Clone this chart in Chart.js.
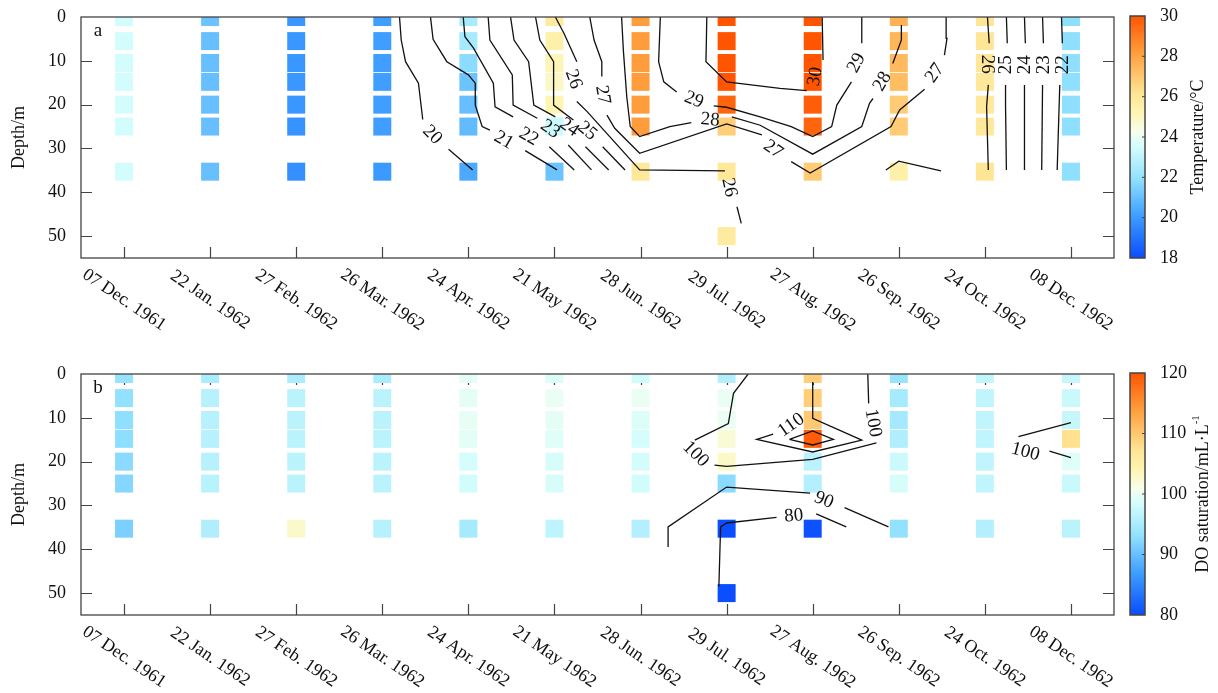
<!DOCTYPE html>
<html lang="en">
<head>
<meta charset="UTF-8">
<title>Temperature and DO saturation profiles, 1961-1962</title>
<script src="https://cdn.jsdelivr.net/npm/chart.js"></script>
<style>
  body { margin: 0; background: #fff; }
  .panel { position: absolute; left: 0; width: 1218px; }
  #pa { top: 0; height: 357px; }
  #pb { top: 357px; height: 336px; }
</style>
</head>
<body>
<div class="panel" id="pa"><canvas id="tempChart"></canvas></div>
<div class="panel" id="pb"><canvas id="doChart"></canvas></div>
<script>
const dates = ['07 Dec. 1961', '22 Jan. 1962', '27 Feb. 1962', '26 Mar. 1962', '24 Apr. 1962', '21 May 1962',
               '28 Jun. 1962', '29 Jul. 1962', '27 Aug. 1962', '26 Sep. 1962', '24 Oct. 1962', '08 Dec. 1962'];
// sample depths (m) as they sit on the picture
const depths = [0, 5.5, 10.5, 14.8, 20, 25, 35.3, 50];
const depthTicks = [0, 10, 20, 30, 40, 50];
const tempBarTicks = [18, 20, 22, 24, 26, 28, 30];
const doBarTicks = [80, 90, 100, 110, 120];

// temperature (°C), one row per date, one value per depth (null = no sample)
const tempGrid = [
  [23.5, 23.5, 23.5, 23.5, 23.5, 23.5, 23.5, null],
  [21.1, 21.0, 21.0, 21.0, 21.0, 21.0, 21.0, null],
  [19.9, 19.9, 19.9, 19.9, 19.9, 19.8, 19.7, null],
  [20.1, 20.1, 20.1, 20.1, 20.1, 20.1, 20.0, null],
  [22.5, 22.4, 21.8, 21.1, 21.0, 20.9, 20.4, null],
  [25.8, 25.5, 25.1, 24.9, 25.2, 23.3, 21.1, null],
  [28.2, 28.2, 28.2, 28.2, 28.2, 28.2, 26.0, null],
  [30.0, 30.0, 30.0, 30.0, 29.6, 26.8, 26.0, 25.8],
  [30.0, 30.0, 30.0, 30.0, 29.8, 29.6, 26.9, null],
  [27.6, 27.5, 27.4, 27.3, 26.9, 26.9, 25.5, null],
  [26.1, 26.1, 26.0, 26.0, 26.0, 26.0, 26.1, null],
  [21.9, 21.9, 21.9, 21.9, 21.9, 21.9, 21.9, null]
];

// DO saturation, same layout
const doGrid = [
  [93.4, 93.2, 93.0, 92.9, 92.6, 92.2, 91.6, null],
  [95.2, 96.0, 96.0, 96.0, 96.0, 96.2, 95.6, null],
  [95.2, 96.4, 96.4, 96.4, 96.4, 96.4, 102.6, null],
  [95.2, 96.4, 96.4, 96.4, 96.4, 96.4, 96.0, null],
  [99.6, 99.6, 99.7, 99.4, 98.4, 98.2, 94.8, null],
  [99.0, 100.0, 99.6, 99.2, 98.6, 98.6, 96.6, null],
  [98.2, 100.0, 99.0, 98.5, 98.3, 98.2, 95.8, null],
  [95.8, 100.0, 100.0, 102.0, 102.8, 92.6, 80.2, 80.2],
  [109.4, 109.4, 109.8, 119.2, 96.4, 95.8, 80.4, null],
  [93.6, 94.8, 94.6, 95.6, 97.8, 98.6, 93.2, null],
  [97.0, 96.8, 96.8, 96.8, 96.8, 96.8, 95.8, null],
  [97.2, 97.6, 97.2, 107.6, 99.2, 97.6, 96.4, null]
];

// isoline pieces: [level, [[date index, depth], ...]]
const tempContours = [
  [20, [[3.20, 0], [3.22, 5.25], [3.27, 10.2], [3.42, 15.1], [3.47, 23.4]]],
  [20, [[3.77, 30.2], [4.05, 34.9]]],
  [21, [[3.56, 0], [3.59, 5.1], [3.75, 10.2], [4.00, 13.2], [4.08, 15.1], [4.08, 20.1], [4.16, 25.0], [4.25, 25.8]]],
  [21, [[4.66, 30.5], [5.03, 34.9]]],
  [22, [[3.94, 0], [3.96, 4.5], [4.06, 7.1], [4.29, 15.1], [4.31, 20.5], [4.52, 22.8]]],
  [22, [[4.94, 29.6], [5.23, 34.9]]],
  [23, [[4.23, 0], [4.25, 5.25], [4.51, 13.2], [4.52, 20.1], [4.80, 23.1]]],
  [23, [[5.16, 29.2], [5.43, 34.9]]],
  [24, [[4.49, 0], [4.53, 5.25], [4.70, 10.2], [4.76, 20.1], [5.01, 22.8]]],
  [24, [[5.36, 29.6], [5.63, 34.9]]],
  [25, [[4.78, 0], [4.83, 5.25], [4.99, 10.2], [4.99, 20.1], [5.22, 23.5]]],
  [25, [[5.56, 29.6], [5.82, 34.9]]],
  [26, [[5.01, 0], [5.11, 3.72], [5.26, 10.2]]],
  [26, [[5.26, 19.3], [5.38, 21.6], [5.99, 34.9], [6.98, 35.1]]],
  [26, [[7.12, 43.3], [7.17, 47.1]]],
  [26, [[8.85, 34.9], [9.00, 32.9], [9.49, 35.1]]],
  [27, [[5.41, 0], [5.46, 5.25], [5.55, 10.2], [5.55, 13.6]]],
  [27, [[5.61, 22.4], [5.70, 25.4], [5.99, 31.1], [7.00, 24.4], [7.41, 26.9]]],
  [27, [[7.75, 33.0], [7.97, 35.6], [8.91, 25.0], [9.01, 21.2], [9.30, 16.5]]],
  [27, [[9.53, 8.7], [9.56, 4.9], [9.55, 0]]],
  [28, [[5.78, 0], [5.80, 7.5], [5.84, 18.2], [5.88, 25.0], [5.99, 27.3], [6.34, 25.0], [6.59, 24.1]]],
  [28, [[7.06, 22.8], [7.39, 24.7], [8.00, 31.3], [8.57, 25.0], [8.66, 19.7], [8.70, 18.6]]],
  [28, [[8.93, 10.6], [9.03, 5.25], [9.03, 1.8]]],
  [29, [[6.23, 0], [6.21, 10.2], [6.27, 14.8], [6.42, 17.1]]],
  [29, [[6.85, 20.3], [7.00, 20.6], [7.39, 22.8], [7.75, 25.0], [8.00, 27.3], [8.22, 25.0], [8.28, 20.1], [8.45, 14.8]]],
  [29, [[8.57, 6.0], [8.57, 0]]],
  [30, [[6.77, 0], [6.76, 10.2], [7.00, 14.8], [7.62, 16.3], [7.93, 16.8]]],
  [30, [[8.12, 9.8], [8.11, 0]]],
  [26, [[10.03, 0], [10.05, 6.0]]],
  [26, [[10.04, 15.5], [10.02, 20.5], [10.04, 34.9]]],
  [25, [[10.25, 0], [10.26, 6.0]]],
  [25, [[10.24, 15.5], [10.24, 20.1], [10.25, 34.9]]],
  [24, [[10.46, 0], [10.47, 6.0]]],
  [24, [[10.46, 15.5], [10.46, 34.9]]],
  [23, [[10.67, 0], [10.68, 6.0]]],
  [23, [[10.67, 15.5], [10.66, 34.9]]],
  [22, [[10.89, 0], [10.90, 6.0]]],
  [22, [[10.87, 15.5], [10.84, 34.9]]]
];
// isoline labels: [date index, depth, text, angle]
const tempLabels = [
  [3.58, 26.9, '20', 45], [4.41, 28.1, '21', 30], [4.70, 27.3, '22', 30], [4.95, 25.6, '23', 35],
  [5.17, 25.2, '24', 35], [5.38, 26.0, '25', 40], [5.22, 14.2, '26', 70], [5.56, 17.8, '27', 80],
  [6.62, 18.9, '29', 22], [6.81, 23.5, '28', 5], [7.54, 30.2, '27', 35], [7.03, 38.9, '26', 78],
  [8.03, 13.6, '30', -80], [8.51, 10.5, '29', -62], [8.81, 14.7, '28', -60], [9.42, 12.8, '27', -55],
  [10.03, 10.8, '26', 90], [10.25, 10.9, '25', -90], [10.47, 10.9, '24', -90], [10.69, 10.9, '23', -90],
  [10.91, 10.9, '22', -90]
];

const doContours = [
  [100, [[7.25, 0], [7.08, 4.4], [7.02, 11.3], [6.63, 15.1]]],
  [100, [[6.86, 20.8], [7.00, 21.1], [8.00, 19.5], [8.74, 15.7]]],
  [100, [[8.65, 6.7], [8.64, 0]]],
  [110, [[7.54, 13.7], [7.35, 14.9], [8.00, 17.8], [8.57, 15.1], [8.00, 10.1], [8.00, 1.8]]],
  [115, [[7.73, 14.9], [8.00, 13.0], [8.24, 14.9], [8.00, 16.2], [7.73, 14.9]]],
  [90, [[6.32, 39.5], [6.32, 34.9], [7.00, 25.8], [7.97, 27.2]]],
  [90, [[8.37, 30.5], [8.88, 34.9]]],
  [80, [[6.91, 48.5], [6.93, 34.9], [7.00, 34.0], [7.58, 32.7]]],
  [80, [[8.04, 31.9], [8.39, 34.9]]],
  [100, [[11.00, 11.1], [10.39, 14.3]]],
  [100, [[10.75, 17.6], [11.00, 19.1]]]
];
const doLabels = [
  [6.64, 18.3, '100', 45], [8.70, 11.2, '100', 80], [7.75, 11.7, '110', -35],
  [8.13, 28.8, '90', 22], [7.78, 32.4, '80', -5], [10.47, 17.8, '100', 15]
];

const serif = "'Liberation Serif', 'Times New Roman', serif";
const ink = '#111';

// shared colour scale (0 = blue end, 1 = red end)
const cmapStops = [[0, '#0a4cff'], [0.17, '#3c9cff'], [0.33, '#92e2ff'], [0.46, '#d4fdfc'], [0.52, '#f6ffee'],
                   [0.6, '#fff5b2'], [0.68, '#ffe594'], [0.84, '#ffa140'], [1, '#ff5500']];

function hexRgb(h) {
  return [parseInt(h.slice(1, 3), 16), parseInt(h.slice(3, 5), 16), parseInt(h.slice(5, 7), 16)];
}
function colormap(t) {
  t = Math.max(0, Math.min(1, t));
  for (let i = 1; i < cmapStops.length; i++) {
    if (t <= cmapStops[i][0]) {
      const [t0, c0] = cmapStops[i - 1], [t1, c1] = cmapStops[i];
      const f = (t - t0) / (t1 - t0), a = hexRgb(c0), b = hexRgb(c1);
      return 'rgb(' + a.map((v, k) => Math.round(v + f * (b[k] - v))).join(',') + ')';
    }
  }
  return cmapStops[cmapStops.length - 1][1];
}

function cellDataset(grid, min, max) {
  const pts = [], colors = [];
  grid.forEach((col, i) => col.forEach((v, k) => {
    if (v === null) return;
    pts.push({ x: i, y: depths[k] });
    colors.push(colormap((v - min) / (max - min)));
  }));
  return {
    label: 'samples', data: pts, showLine: false, pointStyle: 'rect',
    pointRadius: 9 * Math.SQRT2, pointBorderWidth: 0, pointBackgroundColor: colors,
    clip: 0, order: 5
  };
}

function contourDatasets(list) {
  return list.map(([level, pts]) => ({
    label: 'isoline ' + level, data: pts.map(([x, d]) => ({ x: x, y: d })),
    showLine: true, borderColor: '#111', borderWidth: 1.3, pointRadius: 0, tension: 0, order: 0
  }));
}

function panelPlugin(cfg) {
  return {
    id: 'panelDecor',
    beforeDatasetsDraw(chart) {
      // inward tick marks, under the sample squares
      const { ctx, chartArea: a, scales: { x, y } } = chart;
      ctx.save();
      ctx.strokeStyle = '#444';
      ctx.lineWidth = 1.2;
      ctx.beginPath();
      x.ticks.forEach(t => {
        const px = Math.round(x.getPixelForValue(t.value)) + 0.5;
        ctx.moveTo(px, a.bottom); ctx.lineTo(px, a.bottom - 11);
        if (cfg.topTicks) { ctx.moveTo(px, a.top); ctx.lineTo(px, a.top + 11); }
      });
      y.ticks.forEach(t => {
        if (t.value <= 0) return;
        const py = Math.round(y.getPixelForValue(t.value)) + 0.5;
        ctx.moveTo(a.left, py); ctx.lineTo(a.left + 11, py);
        ctx.moveTo(a.right, py); ctx.lineTo(a.right - 11, py);
      });
      ctx.stroke();
      ctx.restore();
    },
    afterDatasetsDraw(chart) {
      const { ctx, chartArea: a, scales: { x, y } } = chart;
      ctx.save();
      ctx.fillStyle = '#111';
      ctx.textAlign = 'center';
      ctx.textBaseline = 'middle';

      // isoline labels
      ctx.font = '19px ' + serif;
      cfg.labels.forEach(([xv, dv, txt, ang]) => {
        ctx.save();
        ctx.translate(x.getPixelForValue(xv), y.getPixelForValue(dv));
        ctx.rotate(ang * Math.PI / 180);
        ctx.fillText(txt, 0, 0);
        ctx.restore();
      });

      // frame
      ctx.strokeStyle = '#444';
      ctx.lineWidth = 1.3;
      ctx.strokeRect(a.left, a.top, a.right - a.left, a.bottom - a.top);

      // panel letter
      ctx.fillStyle = ink;
      ctx.font = '19px ' + serif;
      ctx.fillText(cfg.letter, a.left + 17, a.top + 14);

      // slanted date labels
      ctx.font = '18px ' + serif;
      x.ticks.forEach(t => {
        ctx.save();
        ctx.translate(x.getPixelForValue(t.value), a.bottom + 42);
        ctx.rotate(34 * Math.PI / 180);
        ctx.fillText(dates[t.value], 0, 0);
        ctx.restore();
      });

      // colour bar
      const bx = a.right + 16, bw = 15, top = a.top - 1, bot = a.bottom;
      const g = ctx.createLinearGradient(0, bot, 0, top);
      cmapStops.forEach(([t, c]) => g.addColorStop(t, c));
      ctx.fillStyle = g;
      ctx.fillRect(bx, top, bw, bot - top);
      ctx.strokeStyle = '#444';
      ctx.lineWidth = 1.5;
      ctx.strokeRect(bx, top, bw, bot - top);
      ctx.fillStyle = ink;
      ctx.font = '18px ' + serif;
      ctx.textAlign = 'left';
      ctx.lineWidth = 1;
      cfg.barTicks.forEach(v => {
        const py = bot - (v - cfg.min) / (cfg.max - cfg.min) * (bot - top);
        if (v > cfg.min && v < cfg.max) {
          ctx.beginPath();
          ctx.moveTo(bx + bw, py); ctx.lineTo(bx + bw - 3, py);
          ctx.stroke();
        }
        ctx.fillText(String(v), bx + bw + 15, py);
      });

      // colour bar title
      ctx.save();
      ctx.translate(cfg.titleX, (top + bot) / 2);
      ctx.rotate(-Math.PI / 2);
      ctx.font = '18px ' + serif;
      const w1 = ctx.measureText(cfg.title).width;
      let w2 = 0;
      if (cfg.sup) { ctx.font = '11px ' + serif; w2 = ctx.measureText(cfg.sup).width; }
      const x0 = -(w1 + w2) / 2;
      ctx.font = '18px ' + serif;
      ctx.fillText(cfg.title, x0, 0);
      if (cfg.sup) {
        ctx.font = '11px ' + serif;
        ctx.fillText(cfg.sup, x0 + w1, -7);
      }
      ctx.restore();

      ctx.restore();
    }
  };
}

function makePanel(canvasId, grid, contours, labels, cfg) {
  return new Chart(document.getElementById(canvasId), {
    type: 'scatter',
    data: { datasets: [...contourDatasets(contours), cellDataset(grid, cfg.min, cfg.max)] },
    options: {
      responsive: true,
      maintainAspectRatio: false,
      animation: false,
      events: [],
      layout: { padding: { top: 17, right: 104, left: 0, bottom: 0 } },
      plugins: { legend: { display: false }, tooltip: { enabled: false } },
      scales: {
        x: {
          type: 'linear', min: -0.5, max: 11.5,
          grid: { display: false }, border: { display: false },
          ticks: { display: false },
          afterBuildTicks: s => { s.ticks = dates.map((d, i) => ({ value: i })); },
          afterFit: s => { s.height = cfg.xHeight; s.paddingLeft = 0; s.paddingRight = 0; }
        },
        y: {
          type: 'linear', reverse: true, min: 0, max: 55,
          grid: { display: false, drawTicks: false }, border: { display: false },
          ticks: { padding: 15, color: ink, font: { family: serif, size: 18 } },
          afterBuildTicks: s => { s.ticks = depthTicks.map(v => ({ value: v })); },
          afterFit: s => { s.width = 81; s.paddingTop = 0; s.paddingBottom = 0; },
          title: { display: true, text: 'Depth/m', color: ink, font: { family: serif, size: 18 }, padding: { top: 8, bottom: 0 } }
        }
      }
    },
    plugins: [panelPlugin(Object.assign({ labels: labels }, cfg))]
  });
}

makePanel('tempChart', tempGrid, tempContours, tempLabels, {
  letter: 'a', topTicks: false, xHeight: 99, min: 18, max: 30, barTicks: tempBarTicks,
  title: 'Temperature/°C', sup: '', titleX: 1198
});
makePanel('doChart', doGrid, doContours, doLabels, {
  letter: 'b', topTicks: true, xHeight: 78, min: 80, max: 120, barTicks: doBarTicks,
  title: 'DO saturation/mL·L', sup: '-1', titleX: 1203
});
</script>
</body>
</html>
